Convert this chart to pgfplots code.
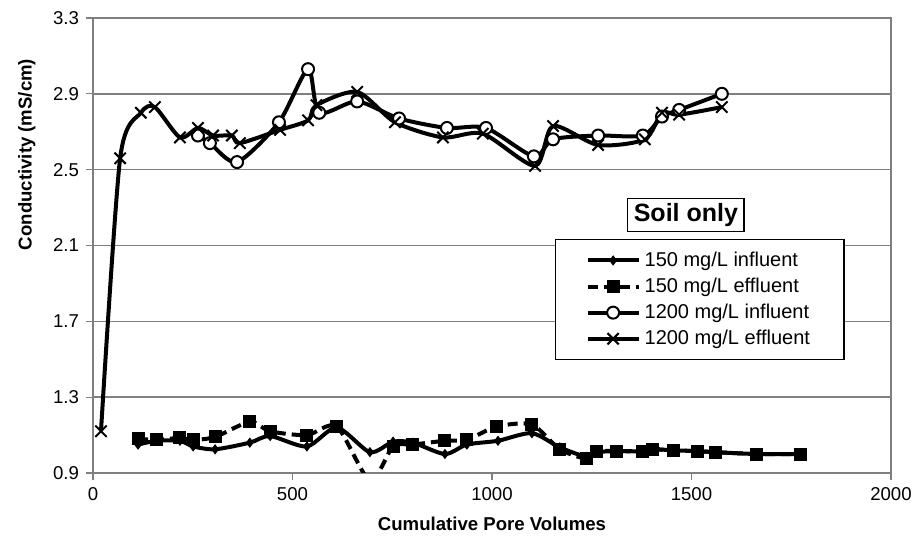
\documentclass[border=0pt]{standalone}
\usepackage{pgfplots}
\pgfplotsset{compat=1.18}
\usepackage{fontspec}
\setmainfont{Liberation Sans}

\definecolor{gridgray}{RGB}{128,128,128}

\begin{document}
\begin{tikzpicture}
\begin{axis}[
    at={(0,0)}, anchor=south west,
    scale only axis,
    width=399pt, height=227.5pt,
    xmin=0, xmax=2000, ymin=0.9, ymax=3.3,
    xtick={0,500,1000,1500,2000},
    ytick={0.9,1.3,1.7,2.1,2.5,2.9,3.3},
    yticklabel style={/pgf/number format/.cd, fixed, fixed zerofill, precision=1},
    xticklabel style={/pgf/number format/1000 sep={}},
    /pgf/number format/assume math mode=true,
    tick label style={font=\fontsize{9.3}{10}\selectfont},
    tick align=outside,
    major tick length=3.5pt,
    xtick pos=bottom, ytick pos=left,
    tick style={gridgray, line width=0.6pt},
    axis line style={gridgray, line width=0.7pt},
    ymajorgrids,
    grid style={gridgray, line width=0.7pt},
    xlabel={\bfseries Cumulative Pore Volumes},
    ylabel={\bfseries Conductivity (mS/cm)},
    label style={font=\fontsize{9.3}{11}\selectfont},
    xlabel style={at={(axis description cs:0.5,-0.112)}, anchor=center},
    ylabel style={at={(axis description cs:-0.083,0.70)}, anchor=center},
    legend style={at={(axis description cs:0.579,0.514)}, anchor=north west,
        draw=black, line width=0.6pt, fill=white,
        font=\fontsize{10}{12}\selectfont,
        inner xsep=15pt, inner ysep=4pt, row sep=0.3pt,
        legend cell align=left},
    legend image code/.code={%
        \draw[mark repeat=2, mark phase=2]
        plot coordinates {(0pt,0pt) (12.75pt,0pt) (25.5pt,0pt)};},
    every axis plot/.append style={black, line width=2pt, smooth, tension=0.45},
]
% 150 mg/L influent
\addplot[mark=diamond*, mark size=2.2pt, mark options={solid, line width=0.5pt}] coordinates {
    (113,1.05) (160,1.07) (218,1.07) (251,1.04) (306,1.025) (393,1.06)
    (444,1.095) (536,1.04) (611,1.14) (694,1.01) (752,1.065) (802,1.06)
    (882,1.0) (937,1.05) (1015,1.07) (1100,1.11) (1170,1.035) (1238,0.985)
    (1263,1.01) (1313,1.015) (1378,1.015) (1403,1.025) (1454,1.02)
    (1516,1.015) (1559,1.01) (1664,1.0) (1772,1.0)
};
\addlegendentry{150 mg/L influent}
% 150 mg/L effluent
\addplot[dash pattern=on 5pt off 3pt, mark=square*, mark size=3pt, mark options={solid, line width=0.5pt}] coordinates {
    (113,1.08) (160,1.075) (218,1.085) (251,1.075) (306,1.09) (393,1.17)
    (444,1.12) (536,1.10) (611,1.145) (694,0.86) (752,1.04) (802,1.05)
    (882,1.07) (937,1.075) (1012,1.145) (1100,1.155) (1170,1.025) (1238,0.975)
    (1263,1.015) (1313,1.015) (1378,1.015) (1403,1.025) (1454,1.02)
    (1516,1.015) (1559,1.01) (1664,1.0) (1772,1.0)
};
\addlegendentry{150 mg/L effluent}
% 1200 mg/L influent
\addplot[mark=*, mark size=3pt, mark options={solid, fill=white, line width=1pt}] coordinates {
    (263,2.68) (293,2.64) (361,2.54) (466,2.75) (539,3.03) (567,2.80)
    (662,2.86) (767,2.77) (887,2.72) (985,2.72) (1105,2.57) (1153,2.66)
    (1266,2.68) (1378,2.68) (1426,2.78) (1469,2.815) (1576,2.90)
};
\addlegendentry{1200 mg/L influent}
% 1200 mg/L effluent
\addplot[mark=x, mark size=4pt, mark options={solid, line width=1pt}] coordinates {
    (20,1.12) (68,2.56) (120,2.80) (155,2.83) (218,2.67) (263,2.72)
    (301,2.68) (348,2.68) (368,2.64) (469,2.71) (539,2.76) (560,2.84)
    (662,2.91) (757,2.75) (877,2.67) (977,2.69) (1108,2.52) (1153,2.73)
    (1266,2.63) (1383,2.66) (1426,2.80) (1469,2.79) (1576,2.83)
};
\addlegendentry{1200 mg/L effluent}
\node[draw=black, fill=white, line width=0.6pt, inner xsep=3pt, inner ysep=2.5pt,
      font=\bfseries\fontsize{12.5}{14}\selectfont]
    at (axis description cs:0.743,0.567) {Soil only};
\end{axis}
\path[use as bounding box] (-46.5pt,-33pt) rectangle (414.5pt,236.5pt);
\end{tikzpicture}
\end{document}
